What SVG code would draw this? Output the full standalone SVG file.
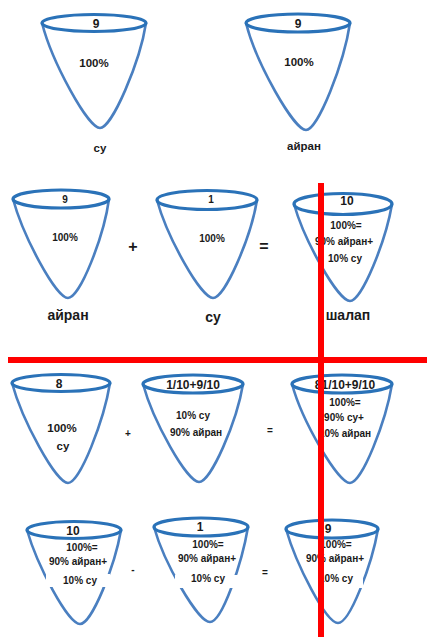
<svg xmlns="http://www.w3.org/2000/svg" width="427" height="637" viewBox="0 0 427 637">
<style>
.side{fill:none;stroke:#4a7fc0;stroke-width:2.6}
.rim{fill:none;stroke:#2a72b8;stroke-width:3.2}
text{font-family:"Liberation Sans",Arial,sans-serif;font-weight:bold;fill:#1a1a1a;text-anchor:middle}
.t{font-size:10px}
.n{font-size:12px}
.m{font-size:11.5px}
.big{font-size:14px}
.op{font-size:16px}
.red{fill:#ff0000}
.gap{fill:#fff}
</style>
<rect width="427" height="637" fill="#fff"/>
<g id="cup1">
<path class="side" d="M42 23 C52 62 88 128 100 128 C112 128 140 62 146 23"/>
<ellipse class="rim" cx="94" cy="23" rx="52" ry="8.5"/>
<text class="n" x="96" y="28">9</text>
<text class="m" x="94" y="67">100%</text>
<text class="m" x="100" y="152">су</text>
</g>
<g id="cup2">
<path class="side" d="M246 23 C256 63 294 130 306 130 C318 130 344 63 350 23"/>
<ellipse class="rim" cx="298" cy="23" rx="52" ry="9"/>
<text class="n" x="298" y="28">9</text>
<text class="m" x="299" y="66">100%</text>
<text class="m" x="304" y="150">айран</text>
</g>
<g id="cup3">
<path class="side" d="M13 199 C23 236 56 298 68 298 C80 298 104 236 109 199"/>
<ellipse class="rim" cx="61" cy="199" rx="48" ry="9"/>
<text class="t" x="65" y="203">9</text>
<text class="t" x="65" y="241">100%</text>
<text class="big" x="68" y="320">айран</text>
</g>
<g id="cup4">
<path class="side" d="M157 200 C167 237 201 298 213 298 C225 298 251 237 257 200"/>
<ellipse class="rim" cx="207" cy="200" rx="50" ry="9.5"/>
<text class="t" x="211" y="203">1</text>
<text class="t" x="212" y="242">100%</text>
<text class="big" x="213" y="322">су</text>
</g>
<g id="cup5">
<path class="side" d="M294 204 C304 240 338 301 350 301 C362 301 386 240 392 204"/>
<ellipse class="rim" cx="343" cy="204" rx="49" ry="10.5"/>
<text class="n" x="347" y="205">10</text>
<text class="t" x="346" y="229">100%=</text>
<text class="t" x="344" y="245">90% айран+</text>
<text class="t" x="345" y="262">10% су</text>
<text class="big" x="348" y="320">шалап</text>
</g>
<g id="cup6">
<path class="side" d="M12 383 C22 420 56 483 68 483 C80 483 104 420 110 383"/>
<ellipse class="rim" cx="61" cy="383" rx="49" ry="8.5"/>
<text class="n" x="59" y="388">8</text>
<text class="m" x="62" y="432">100%</text>
<text class="m" x="63" y="450">су</text>
</g>
<g id="cup7">
<path class="side" d="M143 384 C153 421 187 482 199 482 C211 482 237 421 243 384"/>
<ellipse class="rim" cx="193" cy="384" rx="50" ry="9"/>
<text class="n" x="193" y="389">1/10+9/10</text>
<text class="t" x="193" y="419">10% су</text>
<text class="t" x="196" y="436">90% айран</text>
</g>
<g id="cup8">
<path class="side" d="M292 384 C302 421 338 483 350 483 C362 483 386 421 392 384"/>
<ellipse class="rim" cx="342" cy="384" rx="50" ry="9"/>
<text class="n" x="345" y="389">81/10+9/10</text>
<text class="t" x="345" y="406">100%=</text>
<text class="t" x="344" y="421">90% су+</text>
<text class="t" x="345" y="437">10% айран</text>
</g>
<g id="cup9">
<path class="side" d="M27 530 C37 565 68 624 80 624 C92 624 115 565 121 530"/>
<rect class="gap" x="46" y="574" width="64" height="13"/>
<ellipse class="rim" cx="74" cy="530" rx="47" ry="8.5"/>
<text class="n" x="73" y="535">10</text>
<text class="t" x="82" y="551">100%=</text>
<text class="t" x="78" y="565">90% айран+</text>
<text class="t" x="80" y="584">10% су</text>
</g>
<g id="cup10">
<path class="side" d="M154 527 C164 563 198 622 210 622 C222 622 242 563 248 527"/>
<rect class="gap" x="175" y="575" width="64" height="13"/>
<ellipse class="rim" cx="201" cy="527" rx="47" ry="9"/>
<text class="n" x="200" y="531">1</text>
<text class="t" x="208" y="548">100%=</text>
<text class="t" x="207" y="562">90% айран+</text>
<text class="t" x="208" y="582">10% су</text>
</g>
<g id="cup11">
<path class="side" d="M286 529 C296 564 326 623 338 623 C350 623 372 564 378 529"/>
<rect class="gap" x="355" y="575" width="8" height="13"/>
<ellipse class="rim" cx="332" cy="529" rx="46" ry="9"/>
<text class="n" x="328" y="533">9</text>
<text class="t" x="336" y="548">100%=</text>
<text class="t" x="335" y="562">90% айран+</text>
<text class="t" x="336" y="582">10% су</text>
</g>
<g id="connectors">
<text class="op" x="133" y="252">+</text>
<text class="op" x="264" y="252">=</text>
<text class="t" x="128" y="437">+</text>
<text class="t" x="270" y="434">=</text>
<text class="t" x="133" y="573">-</text>
<text class="t" x="265" y="576">=</text>
<rect class="red" x="8" y="357" width="419" height="6"/>
<rect class="red" x="318" y="183" width="6" height="454"/>
</g>
</svg>
